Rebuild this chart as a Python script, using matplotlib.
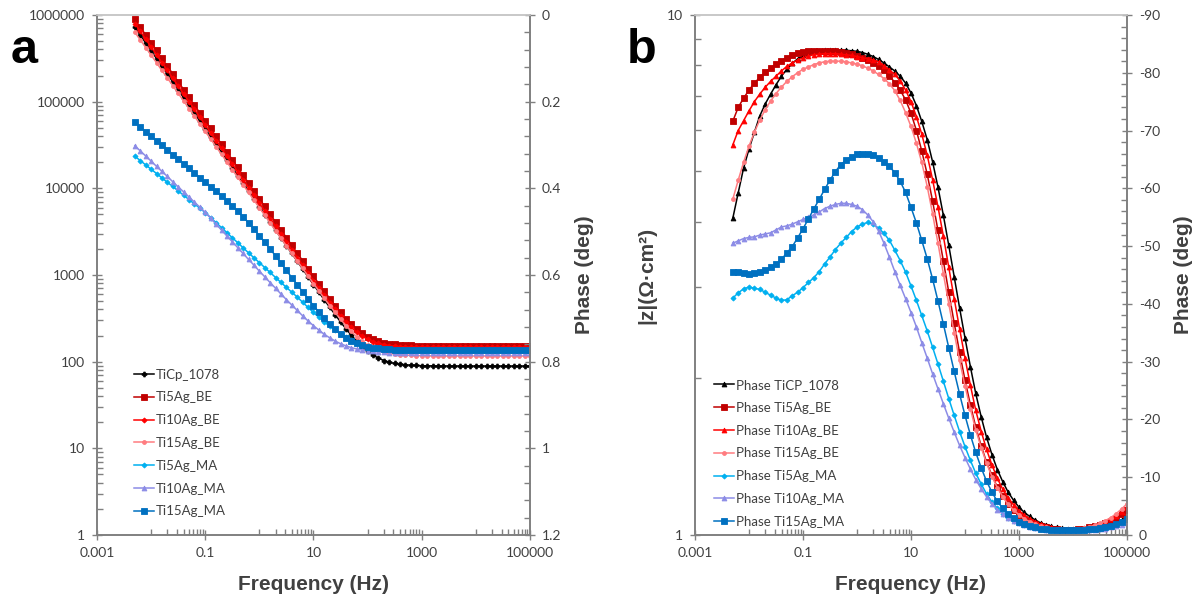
import matplotlib
matplotlib.use("Agg")
from matplotlib import pyplot as plt
from matplotlib.ticker import FixedLocator, FixedFormatter, NullFormatter

# Frequency (Hz), 10 points per decade
freq = [0.00501, 0.00631, 0.00794, 0.01, 0.0126, 0.0158, 0.02, 0.0251, 0.0316, 0.0398,
        0.0501, 0.0631, 0.0794, 0.1, 0.126, 0.158, 0.2, 0.251, 0.316, 0.398,
        0.501, 0.631, 0.794, 1, 1.26, 1.58, 2, 2.51, 3.16, 3.98,
        5.01, 6.31, 7.94, 10, 12.6, 15.8, 20, 25.1, 31.6, 39.8,
        50.1, 63.1, 79.4, 100, 126, 158, 200, 251, 316, 398,
        501, 631, 794, 1000, 1259, 1585, 1995, 2512, 3162, 3981,
        5012, 6310, 7943, 10000, 12590, 15850, 19950, 25120, 31620, 39810,
        50120, 63100, 79430, 100000]

# |Z| (ohm cm2) - panel a
z_ticp = [719000, 585000, 475000, 386000, 314000, 255000, 208000, 169000, 137000, 111000,
          90600, 73600, 59800, 48600, 39500, 32100, 26100, 21200, 17300, 14000,
          11400, 9270, 7530, 6120, 4980, 4050, 3290, 2670, 2170, 1770,
          1443, 1173, 952, 776, 633, 517, 423, 349, 288, 239,
          202, 172, 149, 132, 119, 110, 103, 98.4, 95.3, 93.3,
          91.9, 90.9, 90.3, 89.8, 89.5, 89.3, 89.2, 89.1, 89.0, 89.0,
          89.0, 88.9, 88.9, 88.9, 88.9, 88.9, 88.9, 88.9, 88.9, 88.9,
          88.9, 88.9, 88.9, 88.9]
z_ti5be = [891000, 724000, 589000, 479000, 389000, 316000, 257000, 209000, 170000, 138000,
           112000, 91200, 74100, 60300, 49000, 39800, 32400, 26300, 21400, 17400,
           14100, 11500, 9330, 7590, 6170, 5010, 4070, 3310, 2700, 2200,
           1790, 1460, 1180, 967, 791, 649, 535, 444, 372, 314,
           271, 237, 212, 194, 181, 171, 165, 161, 158, 156,
           155, 154, 153, 153, 152, 152, 152, 152, 152, 152,
           152, 152, 152, 152, 152, 152, 152, 152, 152, 152,
           152, 152, 152, 152]
z_ti10be = [794000, 646000, 525000, 427000, 347000, 282000, 229000, 186000, 151000, 123000,
            100000, 81300, 66100, 53700, 43700, 35500, 28800, 23400, 19100, 15500,
            12600, 10200, 8320, 6760, 5500, 4470, 3630, 2950, 2400, 1960,
            1590, 1300, 1060, 863, 707, 581, 480, 400, 335, 285,
            248, 218, 197, 181, 170, 162, 157, 153, 151, 149,
            148, 147, 147, 147, 146, 146, 146, 146, 146, 146,
            146, 146, 146, 146, 146, 146, 146, 146, 146, 146,
            146, 146, 146, 146]
z_ti15be = [631000, 515000, 421000, 344000, 281000, 229000, 187000, 153000, 125000, 102000,
            83200, 67900, 55500, 45300, 37000, 30200, 24700, 20100, 16400, 13400,
            11000, 8950, 7310, 5970, 4880, 3980, 3250, 2650, 2170, 1770,
            1450, 1190, 971, 796, 653, 538, 444, 369, 309, 260,
            223, 194, 172, 156, 144, 135, 129, 125, 122, 120,
            119, 118, 117, 117, 117, 116, 116, 116, 116, 116,
            116, 116, 116, 116, 116, 116, 116, 116, 116, 116,
            116, 116, 116, 116]
z_ti5ma = [23400, 20900, 18600, 16600, 14800, 13200, 11700, 10500, 9330, 8320,
           7410, 6610, 5890, 5250, 4590, 4020, 3520, 3080, 2690, 2360,
           2060, 1800, 1580, 1390, 1217, 1068, 934, 819, 720, 632,
           557, 484, 422, 369, 325, 287, 256, 230, 209, 191,
           177, 166, 157, 150, 145, 141, 138, 136, 134, 133,
           132, 131, 130.5, 130.1, 129.9, 129.7, 129.5, 129.4, 129.3, 129.2,
           129.1, 129, 129, 129, 129, 129, 129, 129, 129, 129,
           129, 129, 129, 129]
z_ti10ma = [30900, 27000, 23600, 20600, 17900, 15700, 13700, 11900, 10400, 9100,
            7940, 6930, 6050, 5280, 4520, 3860, 3300, 2820, 2420, 2070,
            1770, 1510, 1300, 1107, 952, 817, 701, 603, 520, 450,
            390, 338, 295, 260, 231, 207, 188, 173, 161, 152,
            145, 140, 136, 133, 131, 129, 128, 127.3, 126.6, 126.2,
            125.9, 125.6, 125.4, 125.3, 125.2, 125.1, 125, 125, 125, 125,
            125, 125, 125, 125, 125, 125, 125, 125, 125, 125,
            125, 125, 125, 125]
z_ti15ma = [57500, 50900, 45100, 39900, 35300, 31300, 27700, 24500, 21700, 19200,
            17000, 15000, 13300, 11800, 10400, 9230, 8170, 7230, 6300, 5450,
            4680, 3990, 3380, 2840, 2380, 1990, 1660, 1367, 1128, 933,
            771, 639, 531, 443, 373, 316, 271, 236, 208, 188,
            173, 162, 154, 149, 145, 142, 140, 138.7, 137.8, 137.2,
            136.8, 136.5, 136.3, 136.2, 136.1, 136, 136, 136, 136, 136,
            136, 136, 136, 136, 136, 136, 136, 136, 136, 136,
            136, 136, 136, 136]

# Phase (deg) - panel b
ph_ticp = [-54.8, -59.2, -63.5, -66.8, -69.7, -72.5, -74.6, -76.3, -77.9, -79.4,
           -80.6, -81.6, -82.4, -83.0, -83.4, -83.7, -83.8, -83.9, -83.9, -83.9,
           -83.9, -83.9, -83.8, -83.7, -83.5, -83.2, -82.8, -82.3, -81.7, -81.0,
           -80.3, -79.4, -78.2, -76.5, -74.3, -71.6, -68.4, -64.6, -60.2, -55.3,
           -50.1, -44.7, -39.3, -34.1, -29.1, -24.5, -20.4, -16.9, -13.9, -11.3,
           -9.2, -7.4, -6.0, -4.8, -3.9, -3.2, -2.6, -2.1, -1.8, -1.5,
           -1.3, -1.2, -1.1, -1.1, -1.1, -1.2, -1.3, -1.4, -1.6, -1.8,
           -2.0, -2.3, -2.6, -3.0]
ph_ti5be = [-71.6, -74.0, -75.6, -77.0, -78.2, -79.2, -80.1, -80.8, -81.5, -82.1,
            -82.6, -83.0, -83.4, -83.6, -83.7, -83.8, -83.8, -83.8, -83.8, -83.7,
            -83.6, -83.4, -83.2, -82.9, -82.6, -82.2, -81.7, -81.1, -80.4, -79.5,
            -78.3, -77.0, -75.3, -73.0, -70.0, -66.5, -62.4, -57.8, -52.7, -47.4,
            -42.0, -36.7, -31.6, -26.8, -22.5, -18.7, -15.4, -12.6, -10.3, -8.3,
            -6.7, -5.4, -4.3, -3.5, -2.8, -2.3, -1.9, -1.6, -1.3, -1.1,
            -1.0, -0.9, -0.9, -0.9, -1.0, -1.1, -1.3, -1.5, -1.8, -2.1,
            -2.5, -3.0, -3.6, -4.3]
ph_ti10be = [-67.5, -70.0, -71.7, -73.4, -75.0, -76.3, -77.5, -78.5, -79.4, -80.3,
             -81.1, -81.7, -82.2, -82.6, -82.9, -83.1, -83.2, -83.3, -83.3, -83.3,
             -83.2, -83.1, -83.0, -82.8, -82.6, -82.4, -82.2, -81.9, -81.2, -80.5,
             -79.7, -78.6, -77.0, -75.0, -72.4, -69.4, -65.7, -61.5, -56.8, -51.7,
             -46.3, -40.9, -35.7, -30.6, -25.9, -21.6, -17.9, -14.8, -12.1, -9.8,
             -7.9, -6.4, -5.2, -4.2, -3.4, -2.8, -2.3, -1.9, -1.6, -1.3,
             -1.1, -1.0, -1.0, -1.0, -1.1, -1.2, -1.4, -1.6, -1.9, -2.3,
             -2.8, -3.3, -4.0, -4.9]
ph_ti15be = [-58.1, -61.4, -64.5, -67.3, -69.7, -71.8, -73.6, -75.1, -76.4, -77.5,
             -78.5, -79.3, -80.0, -80.6, -81.0, -81.4, -81.7, -81.9, -82.0, -82.0,
             -82.0, -81.9, -81.7, -81.5, -81.2, -80.8, -80.3, -79.7, -79.0, -78.1,
             -76.9, -75.2, -73.1, -70.7, -67.8, -64.5, -60.3, -55.6, -50.5, -45.2,
             -40.0, -35.0, -30.2, -25.8, -21.8, -18.2, -15.1, -12.4, -10.1, -8.2,
             -6.6, -5.3, -4.3, -3.5, -2.8, -2.3, -1.9, -1.6, -1.3, -1.1,
             -1.0, -0.9, -0.9, -0.9, -1.0, -1.2, -1.4, -1.7, -2.0, -2.5,
             -3.0, -3.7, -4.5, -5.4]
ph_ti5ma = [-41.0, -41.9, -42.6, -42.9, -42.7, -42.5, -42.0, -41.5, -41.0, -40.6,
            -40.7, -41.4, -42.0, -42.8, -43.7, -44.5, -45.6, -46.9, -48.1, -49.4,
            -50.5, -51.5, -52.5, -53.3, -53.8, -54.1, -53.8, -53.1, -52.2, -51.0,
            -49.3, -47.5, -45.5, -43.1, -40.6, -38.0, -35.3, -32.5, -29.6, -26.6,
            -23.6, -20.7, -17.9, -15.3, -12.9, -10.7, -8.8, -7.1, -5.7, -4.6,
            -3.7, -3.0, -2.4, -2.0, -1.7, -1.4, -1.2, -1.0, -0.9, -0.8,
            -0.8, -0.7, -0.7, -0.7, -0.8, -0.8, -0.9, -1.0, -1.1, -1.3,
            -1.5, -1.7, -2.0, -2.4]
ph_ti10ma = [-50.5, -50.9, -51.3, -51.5, -51.6, -51.9, -52.1, -52.3, -52.8, -53.3,
             -53.5, -53.8, -54.2, -54.6, -55.0, -55.4, -55.9, -56.5, -56.9, -57.2,
             -57.4, -57.4, -57.2, -56.9, -56.3, -55.4, -54.2, -52.6, -50.5, -48.1,
             -45.6, -43.2, -40.9, -38.5, -36.0, -33.3, -30.6, -27.9, -25.3, -22.7,
             -20.2, -17.8, -15.5, -13.4, -11.4, -9.6, -8.0, -6.6, -5.4, -4.4,
             -3.6, -2.9, -2.4, -2.0, -1.7, -1.4, -1.2, -1.0, -0.9, -0.8,
             -0.7, -0.7, -0.7, -0.7, -0.7, -0.8, -0.8, -0.9, -1.0, -1.1,
             -1.3, -1.5, -1.8, -2.1]
ph_ti15ma = [-45.5, -45.6, -45.3, -45.2, -45.3, -45.6, -45.9, -46.3, -46.9, -47.7,
             -48.8, -49.9, -51.4, -53.0, -54.7, -56.4, -58.1, -59.8, -61.4, -62.9,
             -64.1, -64.9, -65.5, -65.9, -66.0, -66.0, -65.7, -65.2, -64.6, -63.8,
             -62.7, -61.2, -59.3, -56.7, -54.0, -51.0, -47.8, -44.3, -40.5, -36.5,
             -32.4, -28.3, -24.4, -20.7, -17.3, -14.3, -11.6, -9.3, -7.4, -5.8,
             -4.6, -3.6, -2.9, -2.3, -1.9, -1.6, -1.3, -1.1, -1.0, -0.9,
             -0.8, -0.8, -0.8, -0.8, -0.8, -0.9, -1.0, -1.1, -1.2, -1.4,
             -1.6, -1.9, -2.3, -2.8]

labels_a = ['TiCp_1078', 'Ti5Ag_BE', 'Ti10Ag_BE', 'Ti15Ag_BE',
            'Ti5Ag_MA', 'Ti10Ag_MA', 'Ti15Ag_MA']
labels_b = ['Phase TiCP_1078', 'Phase Ti5Ag_BE', 'Phase Ti10Ag_BE', 'Phase Ti15Ag_BE',
            'Phase Ti5Ag_MA', 'Phase Ti10Ag_MA', 'Phase Ti15Ag_MA']
z_series = [z_ticp, z_ti5be, z_ti10be, z_ti15be, z_ti5ma, z_ti10ma, z_ti15ma]
ph_series = [ph_ticp, ph_ti5be, ph_ti10be, ph_ti15be, ph_ti5ma, ph_ti10ma, ph_ti15ma]

# styles
colors = ['#000000', '#C00000', '#FF0000', '#FF7C80', '#00B0F0', '#8C8CE6', '#0070C0']
markers_a = ['P', 's', 'D', 'o', 'D', '^', 's']
sizes_a = [3.5, 3.8, 2.6, 2.8, 2.6, 3.5, 3.8]
markers_b = ['^', 's', '^', 'o', 'D', '^', 's']
sizes_b = [3.5, 3.8, 3.5, 2.8, 2.6, 3.5, 3.8]

tick_font = 'Lato'
label_font = 'Liberation Sans'
spine_col = '#808080'
text_col = '#404040'

fig = plt.figure(figsize=(11.96, 6.03), dpi=100)
axa = fig.add_axes([0.0811, 0.1128, 0.3620, 0.8624])
axb = fig.add_axes([0.5811, 0.1128, 0.3612, 0.8624])

x_major = [0.001, 0.1, 10, 1000, 100000]
x_major_lbl = ['0.001', '0.1', '10', '1000', '100000']
x_minor = [m * 10.0 ** e for e in (-2, 0, 2, 4) for m in range(1, 10)]


def style_axis(ax):
    for side in ('left', 'right', 'bottom'):
        ax.spines[side].set_color(spine_col)
        ax.spines[side].set_linewidth(1.2)
    ax.spines['top'].set_color('#C8C8C8')
    ax.spines['top'].set_linewidth(1.2)
    ax.tick_params(which='major', direction='inout', length=7, width=1,
                   color=spine_col, labelcolor=text_col, labelsize=10, pad=5)
    ax.tick_params(which='minor', direction='in', length=4, width=1, color=spine_col)
    for lbl in ax.get_xticklabels() + ax.get_yticklabels():
        lbl.set_fontfamily(tick_font)


def style_x(ax):
    ax.set_xscale('log')
    ax.set_xlim(0.001, 100000)
    ax.xaxis.set_major_locator(FixedLocator(x_major))
    ax.xaxis.set_major_formatter(FixedFormatter(x_major_lbl))
    ax.xaxis.set_minor_locator(FixedLocator(x_minor))
    ax.xaxis.set_minor_formatter(NullFormatter())
    ax.set_xlabel('Frequency (Hz)', fontfamily=label_font, fontweight='bold',
                  fontsize=15, color=text_col, labelpad=12)


# ---------- panel a ----------
axa.set_yscale('log')
axa.set_ylim(1, 1000000)
axa.yaxis.set_major_locator(FixedLocator([10.0 ** e for e in range(7)]))
axa.yaxis.set_major_formatter(FixedFormatter(['1', '10', '100', '1000', '10000',
                                              '100000', '1000000']))
axa.yaxis.set_minor_locator(FixedLocator([m * 10.0 ** e for e in range(6) for m in range(2, 10)]))
axa.yaxis.set_minor_formatter(NullFormatter())
style_x(axa)

for z, lab, c, mk, ms in zip(z_series, labels_a, colors, markers_a, sizes_a):
    axa.plot(freq, z, '-', color=c, lw=1.1, marker=mk, ms=ms, mew=0.6, label=lab)

axa2 = axa.twinx()
axa2.set_ylim(1.2, 0)
axa2.yaxis.set_major_locator(FixedLocator([0, 0.2, 0.4, 0.6, 0.8, 1.0, 1.2]))
axa2.yaxis.set_major_formatter(FixedFormatter(['0', '0.2', '0.4', '0.6', '0.8', '1', '1.2']))
axa2.yaxis.set_minor_locator(FixedLocator([i * 0.04 for i in range(31)]))
axa2.set_ylabel('Phase (deg)', fontfamily=label_font, fontweight='bold',
                fontsize=15, color=text_col, labelpad=10)
style_axis(axa)
style_axis(axa2)

leg = axa.legend(loc='upper left', bbox_to_anchor=(0.085, 0.32), frameon=False,
                 prop={'family': tick_font, 'size': 9.5}, handlelength=1.5,
                 handletextpad=0.15, labelspacing=0.82, borderpad=0, borderaxespad=0)
for t in leg.get_texts():
    t.set_color(text_col)

# ---------- panel b ----------
axb.set_yscale('log')
axb.set_ylim(1, 10)
axb.yaxis.set_major_locator(FixedLocator([1, 10]))
axb.yaxis.set_major_formatter(FixedFormatter(['1', '10']))
axb.yaxis.set_minor_locator(FixedLocator(list(range(2, 10))))
axb.yaxis.set_minor_formatter(NullFormatter())
axb.set_ylabel('|z|(Ω·cm²)', fontfamily=label_font, fontweight='bold',
               fontsize=15, color=text_col, labelpad=8)
style_x(axb)

axb2 = axb.twinx()
axb2.set_ylim(0, -90)
axb2.yaxis.set_major_locator(FixedLocator(list(range(-90, 1, 10))))
axb2.yaxis.set_major_formatter(FixedFormatter([str(v) for v in range(-90, 1, 10)]))
axb2.yaxis.set_minor_locator(FixedLocator(list(range(-90, 1, 2))))
axb2.set_ylabel('Phase (deg)', fontfamily=label_font, fontweight='bold',
                fontsize=15, color=text_col, labelpad=10)

for ph, lab, c, mk, ms in zip(ph_series, labels_b, colors, markers_b, sizes_b):
    axb2.plot(freq, ph, '-', color=c, lw=1.1, marker=mk, ms=ms, mew=0.6, label=lab)

style_axis(axb)
style_axis(axb2)

legb = axb2.legend(loc='upper left', bbox_to_anchor=(0.045, 0.30), frameon=False,
                   prop={'family': tick_font, 'size': 9.5}, handlelength=1.5,
                   handletextpad=0.15, labelspacing=0.82, borderpad=0, borderaxespad=0)
for t in legb.get_texts():
    t.set_color(text_col)

# panel letters
fig.text(0.009, 0.895, 'a', fontfamily=label_font, fontweight='bold', fontsize=35)
fig.text(0.524, 0.895, 'b', fontfamily=label_font, fontweight='bold', fontsize=35)

fig.savefig('out.png', dpi=100)
